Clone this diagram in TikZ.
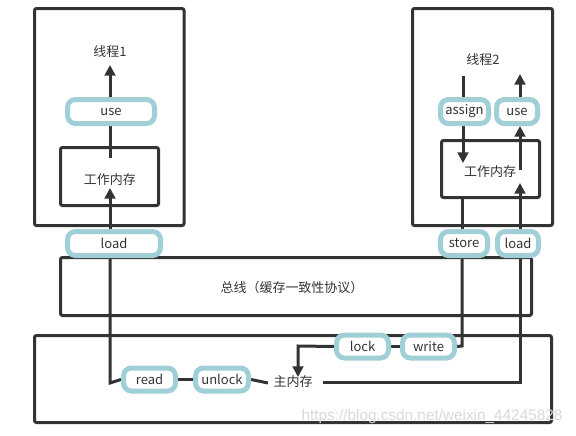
\documentclass[tikz,border=0pt]{standalone}
\usepackage{fontspec}
\setmainfont{Noto Sans CJK SC}
\usetikzlibrary{arrows.meta,backgrounds}
\definecolor{teal1}{HTML}{A0CFD8}
\definecolor{dk}{HTML}{333333}
\begin{document}
\begin{tikzpicture}[x=0.75pt,y=-0.75pt,
  box/.style={draw=dk,line width=2.25pt,rounded corners=1.5pt},
  op/.style={draw=teal1,fill=white,line width=3.75pt,rounded corners=6pt,inner sep=0pt,
    minimum height=18pt,font=\fontsize{9.75pt}{12pt}\selectfont,text=dk},
  opl/.style={op,minimum height=17.25pt},
  lbl/.style={inner sep=0pt,font=\fontsize{9.75pt}{12pt}\selectfont,text=dk},
  ln/.style={draw=dk,line width=2.25pt},
  arr/.style={ln,-{Triangle[width=8pt,length=8pt]}}]
\useasboundingbox (0,0) rectangle (576,436);

% text labels
\node[lbl] (t1) at (110,52) {线程1};
\node[lbl] (t2) at (483,60) {线程2};
\node[lbl] (wk1) at (110,180) {工作内存};
\node[lbl] (wk2) at (490,172) {工作内存};
\node[lbl] (bus) at (292,288) {总线（缓存一致性协议）};
\node[lbl] (mm) at (293,382) {主内存};

% operation nodes
\node[op,minimum width=65.25pt] (use1) at (111,111.5) {use};
\node[op,minimum width=69.75pt] (load1) at (114,243.5) {load};
\node[op,minimum width=36pt] (assign) at (464.5,111.5) {assign};
\node[op,minimum width=30.75pt] (use2) at (517,111.5) {use};
\node[op,minimum width=35.25pt] (store) at (464,243.5) {store};
\node[op,minimum width=30.75pt] (load2) at (518,243.5) {load};
\node[opl,minimum width=39pt] (lock) at (362.5,346.5) {lock};
\node[opl,minimum width=39pt] (write) at (428.5,346.5) {write};
\node[opl,minimum width=39pt] (read) at (149.5,379.5) {read};
\node[opl,minimum width=39.75pt] (unlock) at (222,379.5) {unlock};

% free ends
\coordinate (c1a) at (110,65);
\coordinate (c1b) at (110,158);
\coordinate (c1c) at (110,188);
\coordinate (c1d) at (110,383);
\coordinate (a2top) at (463,76);
\coordinate (a2tip) at (463,163);
\coordinate (u2top) at (520,74);
\coordinate (u2bot) at (520,170);
\coordinate (l2tip) at (520,183);
\coordinate (l2corner) at (520,382);
\coordinate (mmR) at (323,382);
\coordinate (mmL) at (268,383);
\coordinate (sttop) at (462,199);
\coordinate (stcorner) at (462,346);
\coordinate (lkcorner) at (298,346);
\coordinate (lktip) at (298,377);

\begin{scope}[on background layer]
  % boxes
  \draw[box] (34.5,8.5) rectangle (184,225.5);
  \draw[box] (60.5,147.5) rectangle (158.5,205.5);
  \draw[box] (412.5,8.5) rectangle (552.5,225.5);
  \draw[box] (441.5,140.5) rectangle (539.5,197.5);
  \draw[box] (60.5,257.5) rectangle (531.5,315.5);
  \draw[box] (34.5,335.5) rectangle (551.5,422.5);
  % thread 1
  \draw[arr] (use1.north -| c1a) -- (c1a);
  \draw[ln] (c1b) -- (use1.south -| c1b);
  \draw[arr] (load1.north -| c1c) -- (c1c);
  \draw[ln] (load1.south -| c1d) -- (c1d) -- (read.west);
  \draw[ln] (read.east) -- (unlock.west);
  \draw[ln] (unlock.east) -- (mmL);
  % thread 2
  \draw[ln] (a2top) -- (assign.north -| a2top);
  \draw[arr] (assign.south -| a2top) -- (a2tip);
  \draw[arr] (u2bot) -- (use2.south -| u2bot);
  \draw[arr] (use2.north -| u2top) -- (u2top);
  \draw[ln] (mmR) -- (l2corner) -- (load2.south -| l2corner);
  \draw[arr] (load2.north -| l2corner) -- (l2tip);
  \draw[ln] (sttop) -- (store.north -| sttop);
  \draw[ln] (store.south -| sttop) -- (stcorner) -- (write.east);
  \draw[ln] (write.west) -- (lock.east);
  \draw[arr] (lock.west) -- (lkcorner) -- (lktip);
\end{scope}

% watermark
\node[inner sep=0pt,text=black!15,font=\fontspec{Liberation Sans}\fontsize{11.5pt}{13pt}\selectfont] (wm) at (432,417) {https://blog.csdn.net/weixin\_44245828};
\end{tikzpicture}
\end{document}
